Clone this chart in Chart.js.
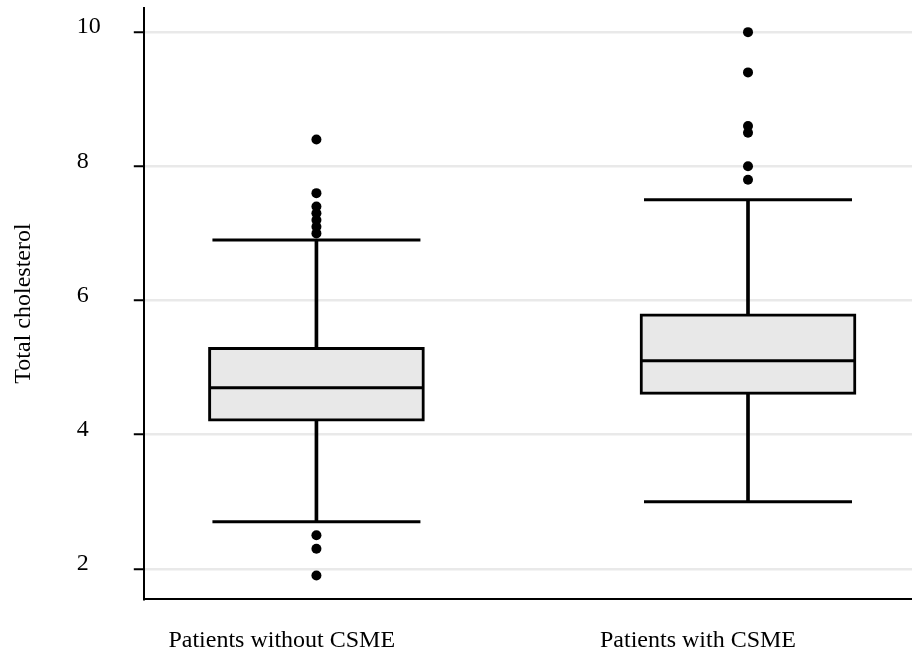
<!DOCTYPE html>
<html lang="en">
<head>
    <meta charset="UTF-8">
    <title>Total cholesterol by CSME status</title>
    <style>
        body {
            margin: 0;
            background: #fff;
        }
        .chart-container {
            width: 912px;
            height: 657px;
        }
    </style>
    <script src="https://cdn.jsdelivr.net/npm/chart.js"></script>
</head>
<body>
    <div class="chart-container">
        <canvas id="cholesterolChart"></canvas>
    </div>
    <script>
        // Groups and box plot summaries
        const categories = ['Patients without CSME', 'Patients with CSME'];
        const positions = [1, 2];
        const whiskerLow = [2.7, 3.0];
        const q1 = [4.2, 4.6];
        const median = [4.7, 5.1];
        const q3 = [5.3, 5.8];
        const whiskerHigh = [6.9, 7.5];
        const outliers = [
            [8.4, 7.6, 7.4, 7.3, 7.2, 7.1, 7.0, 2.5, 2.3, 1.9],
            [10.0, 9.4, 8.6, 8.5, 8.0, 7.8]
        ];
        const yTicks = [2, 4, 6, 8, 10];

        const BOX_WIDTH = 216;
        const ink = '#000';

        Chart.defaults.font.family = '"Liberation Serif", "Times New Roman", serif';
        Chart.defaults.font.size = 24;
        Chart.defaults.color = ink;

        const boxData = positions.map((x, i) => ({ x: x, y: [q1[i], q3[i]] }));
        const lowerWhiskers = positions.map((x, i) => ({ x: x, y: [whiskerLow[i], q1[i]] }));
        const upperWhiskers = positions.map((x, i) => ({ x: x, y: [q3[i], whiskerHigh[i]] }));
        const capData = positions.flatMap((x, i) => [
            { x: x, y: whiskerLow[i] },
            { x: x, y: whiskerHigh[i] }
        ]);
        const medianData = positions.map((x, i) => ({ x: x, y: median[i] }));
        const outlierData = positions.flatMap((x, i) => outliers[i].map(v => ({ x: x, y: v })));

        // the labels sit where they are placed, no extra room around the axes
        function noLabelPadding(scale) {
            scale.paddingLeft = 0;
            scale.paddingRight = 0;
            scale.paddingTop = 0;
            scale.paddingBottom = 0;
        }

        const ctx = document.getElementById('cholesterolChart').getContext('2d');
        new Chart(ctx, {
            type: 'scatter',
            data: {
                datasets: [
                    {
                        type: 'bar',
                        data: lowerWhiskers.concat(upperWhiskers),
                        backgroundColor: ink,
                        borderWidth: 0,
                        barThickness: 3,
                        grouped: false,
                        order: 4
                    },
                    {
                        type: 'bar',
                        data: boxData,
                        backgroundColor: '#e8e8e8',
                        borderColor: ink,
                        borderWidth: 3,
                        borderSkipped: false,
                        barThickness: BOX_WIDTH,
                        grouped: false,
                        order: 3
                    },
                    {
                        // whisker caps
                        data: capData,
                        pointStyle: 'line',
                        pointRadius: 104,
                        borderColor: ink,
                        borderWidth: 3,
                        order: 2
                    },
                    {
                        // medians
                        data: medianData,
                        pointStyle: 'line',
                        pointRadius: BOX_WIDTH / 2 - 1,
                        borderColor: ink,
                        borderWidth: 3,
                        order: 1
                    },
                    {
                        data: outlierData,
                        pointRadius: 5,
                        backgroundColor: ink,
                        borderWidth: 0,
                        order: 0
                    }
                ]
            },
            options: {
                responsive: true,
                maintainAspectRatio: false,
                animation: false,
                events: [],
                layout: {
                    // the wide 'line' points would otherwise push the plot inwards
                    autoPadding: false,
                    padding: { top: 8, right: 0, bottom: 2, left: 0 }
                },
                plugins: {
                    legend: { display: false },
                    tooltip: { enabled: false },
                    title: {
                        display: true,
                        text: 'Total cholesterol',
                        position: 'left',
                        fullSize: false,
                        color: ink,
                        font: { size: 24, weight: 'normal' },
                        padding: { top: 9, bottom: 39 }
                    }
                },
                scales: {
                    x: {
                        type: 'linear',
                        min: 0.6,
                        max: 2.38,
                        offset: false,
                        afterBuildTicks: scale => {
                            scale.ticks = positions.map(v => ({ value: v }));
                        },
                        afterFit: scale => {
                            scale.height = 56;
                            noLabelPadding(scale);
                        },
                        ticks: {
                            align: 'start',
                            labelOffset: -148,
                            padding: 27,
                            maxRotation: 0,
                            autoSkip: false,
                            callback: value => categories[positions.indexOf(value)]
                        },
                        grid: { display: false, drawTicks: false, offset: false },
                        border: { display: true, color: ink, width: 2 }
                    },
                    y: {
                        type: 'linear',
                        min: 1.55,
                        max: 10.36,
                        beginAtZero: false,
                        afterBuildTicks: scale => {
                            scale.ticks = yTicks.map(v => ({ value: v }));
                        },
                        afterFit: scale => {
                            scale.width = 67;
                            noLabelPadding(scale);
                        },
                        ticks: {
                            crossAlign: 'far',
                            labelOffset: -5,
                            padding: 10
                        },
                        grid: {
                            color: '#e9e9e9',
                            lineWidth: 2.5,
                            tickColor: ink,
                            tickWidth: 2,
                            tickLength: 10
                        },
                        border: { display: true, color: ink, width: 2 }
                    }
                }
            }
        });
    </script>
</body>
</html>
